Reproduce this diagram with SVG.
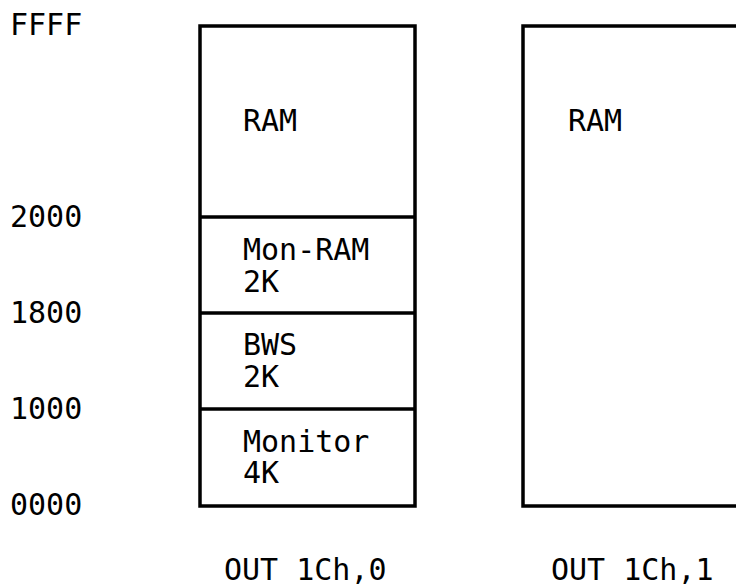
<svg xmlns="http://www.w3.org/2000/svg" width="736" height="586" viewBox="0 0 736 586">
<style>
text{font-family:"DejaVu Sans Mono","Liberation Mono",monospace;font-size:30px;fill:#000}
.box{fill:none;stroke:#000;stroke-width:3.5}
</style>
<rect width="736" height="586" fill="#fff"/>
<g id="addresses">
<text x="10" y="35">FFFF</text>
<text x="10" y="227">2000</text>
<text x="10" y="323">1800</text>
<text x="10" y="419">1000</text>
<text x="10" y="515">0000</text>
</g>
<g id="bank0">
<rect class="box" x="200" y="26" width="215" height="480"/>
<g id="bank0-ram"><text x="243" y="131">RAM</text></g>
<g id="bank0-monram"><line class="box" x1="200" y1="217" x2="415" y2="217"/><text x="243" y="260">Mon-RAM</text><text x="243" y="292">2K</text></g>
<g id="bank0-bws"><line class="box" x1="200" y1="313" x2="415" y2="313"/><text x="243" y="355">BWS</text><text x="243" y="387">2K</text></g>
<g id="bank0-monitor"><line class="box" x1="200" y1="409" x2="415" y2="409"/><text x="243" y="452">Monitor</text><text x="243" y="483">4K</text></g>
<text x="224" y="580">OUT 1Ch,0</text>
</g>
<g id="bank1">
<rect class="box" x="523" y="26" width="240" height="480"/>
<text x="568" y="131">RAM</text>
<text x="551" y="580">OUT 1Ch,1</text>
</g>
<g id="connectors"/>
</svg>
